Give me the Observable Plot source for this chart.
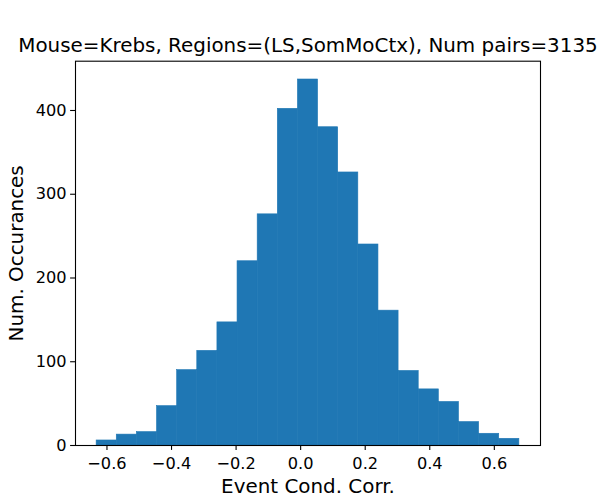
<!DOCTYPE html>
<html>
<head>
<meta charset="utf-8">
<script src="https://cdn.jsdelivr.net/npm/d3@7"></script>
<script src="https://cdn.jsdelivr.net/npm/@observablehq/plot@0.6"></script>
<style>
  html, body { margin: 0; padding: 0; background: #fff; overflow: hidden; }
  #chart svg { display: block; max-width: none; }
</style>
</head>
<body>
<div id="chart"></div>
<script>
// Data
const binStart = -0.632;
const binWidth = 0.06236;
const counts = [6, 13, 16, 47, 90, 113, 147, 220, 276, 402, 437, 380, 326, 240, 161, 89, 67, 52, 28, 14, 8];
const xTicks = [-0.6, -0.4, -0.2, 0.0, 0.2, 0.4, 0.6];
const yTicks = [0, 100, 200, 300, 400];
const titleText = "Mouse=Krebs, Regions=(LS,SomMoCtx), Num pairs=3135";
const xLabel = "Event Cond. Corr.";
const yLabel = "Num. Occurances";

const bins = counts.map((c, i) => ({
  x1: binStart + i * binWidth,
  x2: binStart + (i + 1) * binWidth,
  count: c
}));

const xmin = binStart, xmax = binStart + counts.length * binWidth;
const xpad = (xmax - xmin) * 0.05;
const ymax = d3.max(counts) * 1.05;

const chart = Plot.plot({
  width: 600,
  height: 500,
  marginLeft: 75,
  marginRight: 60,
  marginTop: 60.7,
  marginBottom: 55,
  style: { fontFamily: "DejaVu Sans", fontSize: "16.2px", color: "black", background: "white", display: "block", maxWidth: "none" },
  x: { domain: [xmin - xpad, xmax + xpad] },
  y: { domain: [0, ymax] },
  marks: [
    Plot.rectY(bins, { x1: "x1", x2: "x2", y1: 0, y2: "count", fill: "#1f77b4", stroke: "#1f77b4", strokeWidth: 0.6, inset: 0 }),
    Plot.frame({ stroke: "black", strokeWidth: 1.1 }),
    Plot.axisX({ ticks: xTicks, tickFormat: d3.format(".1f"), tickSize: 4.9, tickPadding: 7.5, strokeWidth: 1.1, label: null, fontSize: 16.2 }),
    Plot.axisY({ ticks: yTicks, tickFormat: d3.format("d"), tickSize: 4.9, tickPadding: 4, strokeWidth: 1.1, label: null, fontSize: 16.2 }),
    Plot.axisY({ ticks: [], label: yLabel, labelAnchor: "center", labelArrow: "none", labelOffset: 67, fontSize: 19.9 }),
    Plot.text([titleText], { frameAnchor: "top", text: d => d, dy: -15.1, lineAnchor: "middle", fontSize: 19.9, fill: "black" }),
    Plot.text([xLabel], { frameAnchor: "bottom", text: d => d, dy: 41.5, lineAnchor: "middle", fontSize: 19.9, fill: "black" })
  ]
});
document.getElementById("chart").appendChild(chart);
</script>
</body>
</html>
